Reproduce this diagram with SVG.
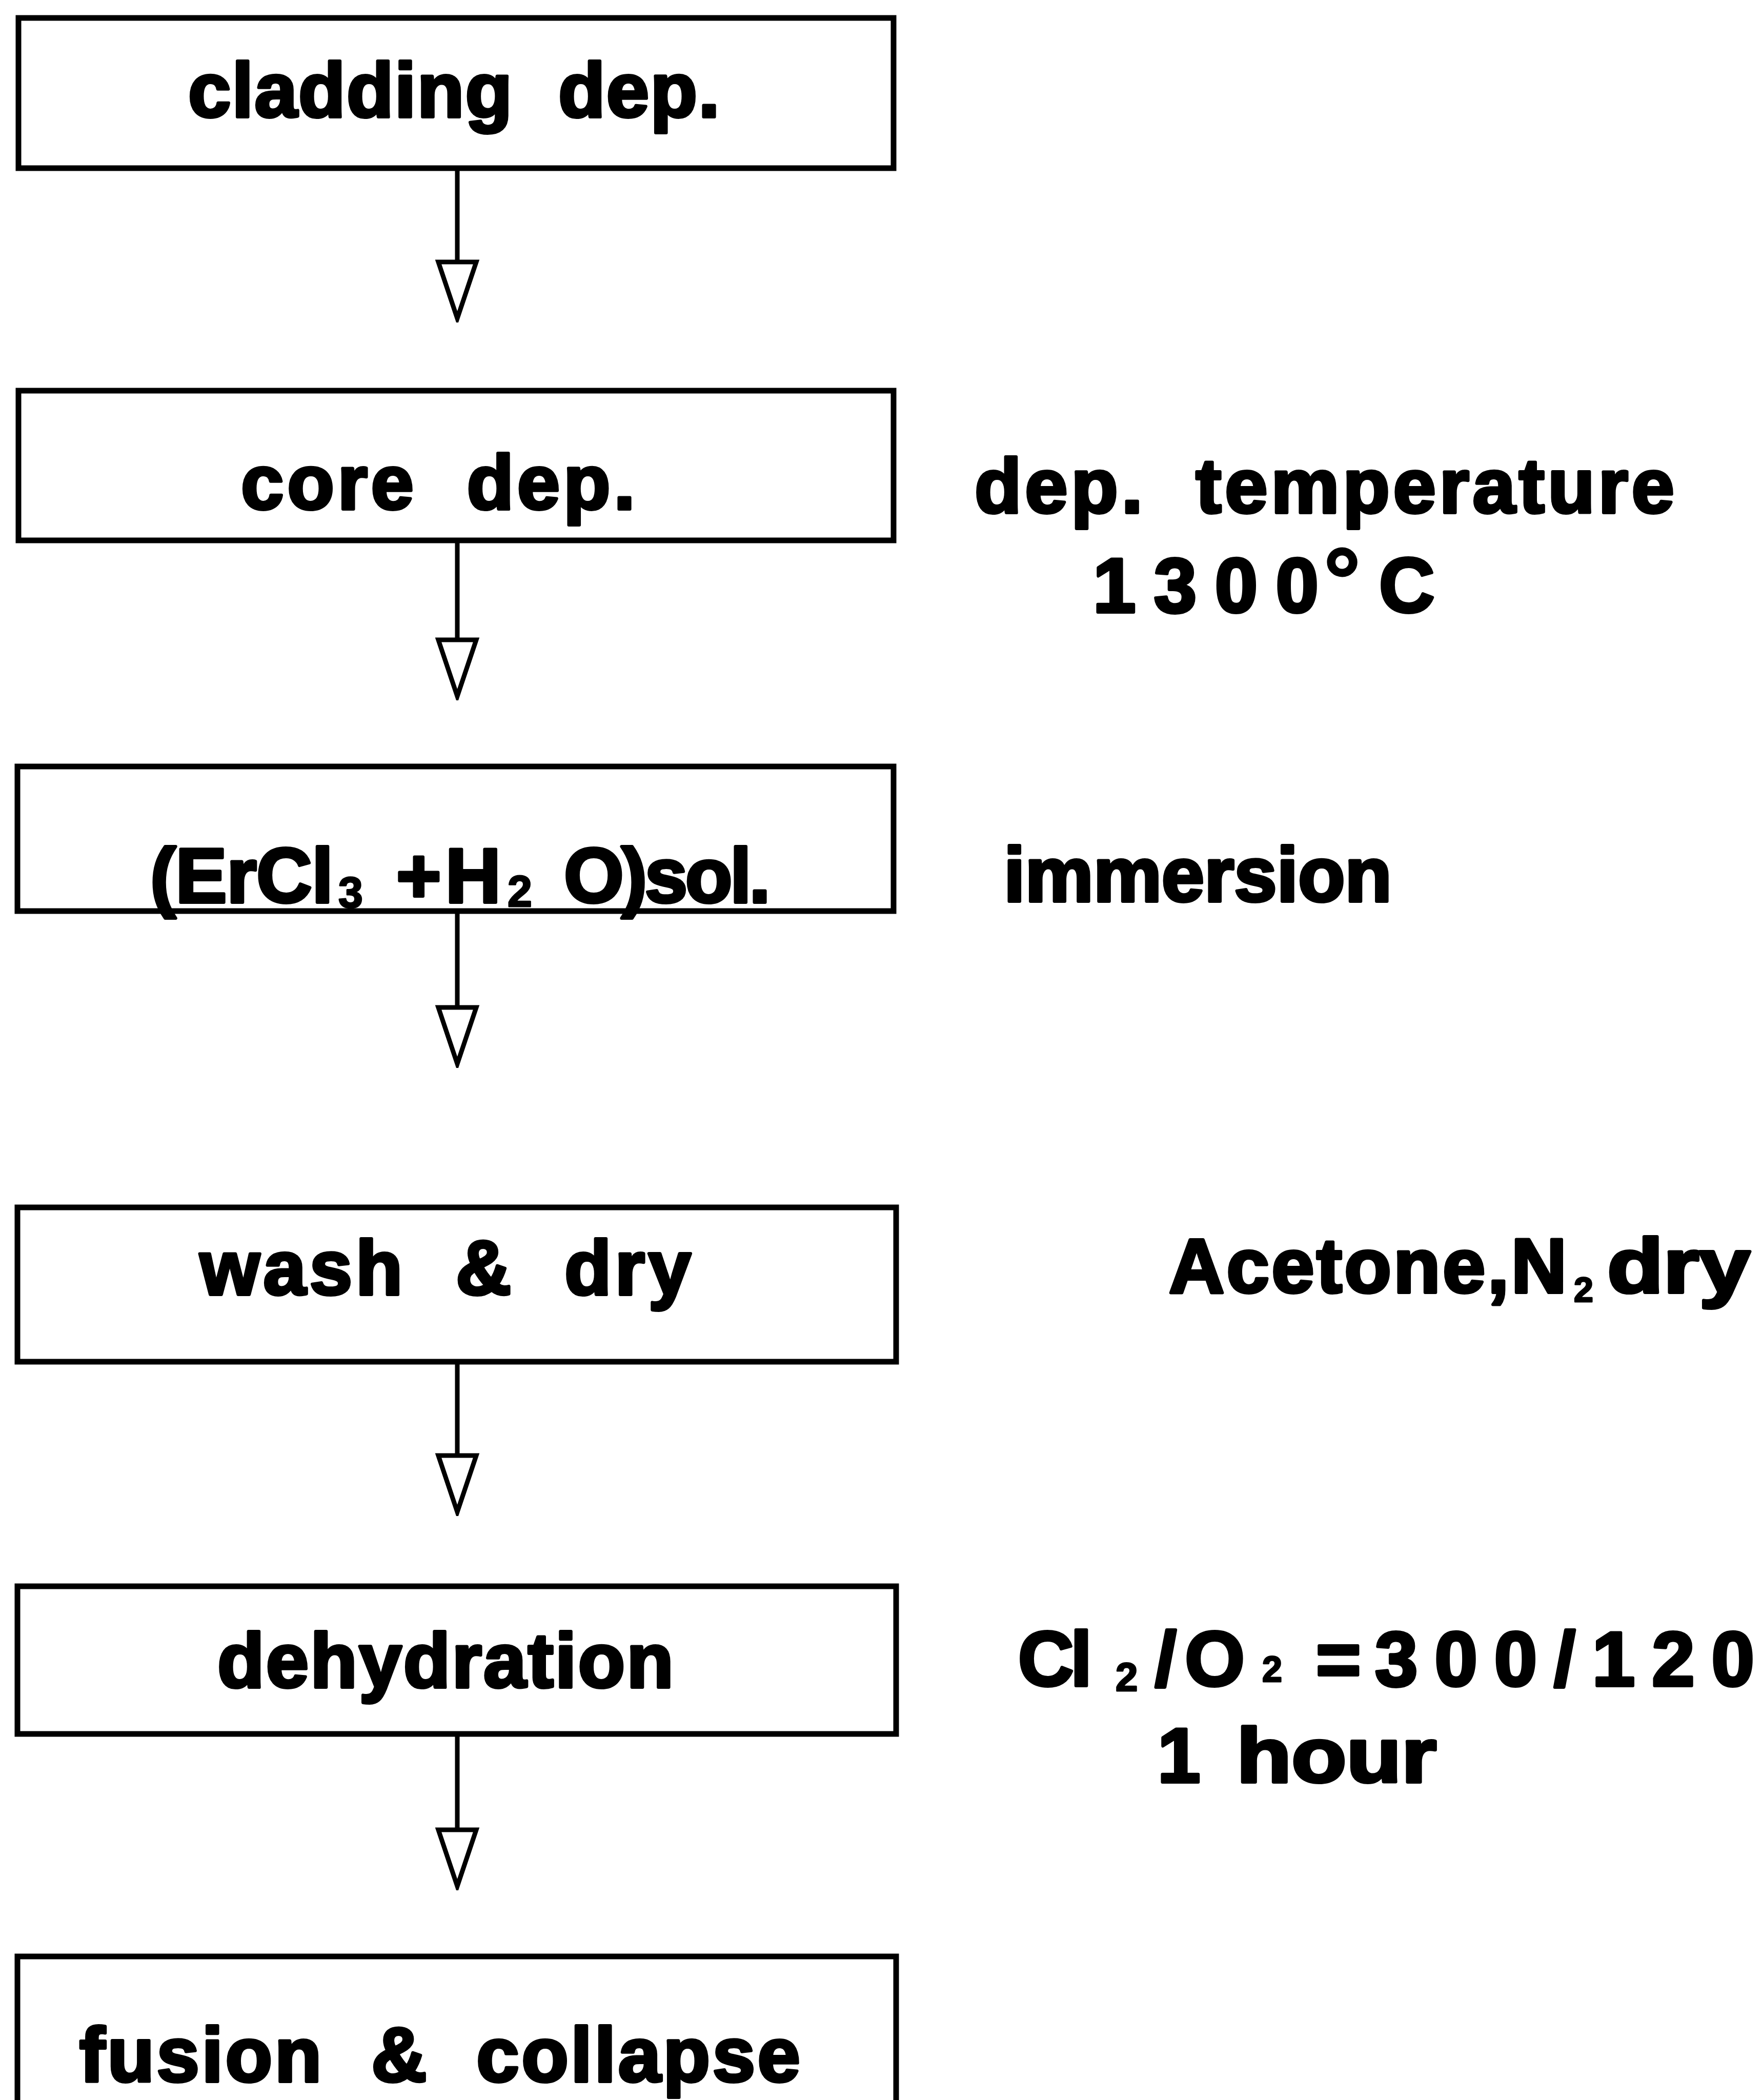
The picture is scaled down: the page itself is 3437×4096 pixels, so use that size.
<svg xmlns="http://www.w3.org/2000/svg" width="3437" height="4096" viewBox="0 0 3437 4096">
<style>
.box{fill:#fff;stroke:#000;stroke-width:11}
.t{font-family:"Liberation Sans",Arial,Helvetica,sans-serif;font-weight:bold;font-size:150px;fill:#000;stroke:#000;stroke-width:6;stroke-linejoin:round}
.sub{font-size:86px;stroke-width:3}
.conn line{stroke:#000;stroke-width:9}
</style>
<defs>
<marker id="tri" markerUnits="userSpaceOnUse" viewBox="-46 -6 92 124" refX="0" refY="0" markerWidth="92" markerHeight="124" orient="0">
<path d="M-37 0 L37 0 L0 110 Z" fill="#fff" stroke="#000" stroke-width="9" stroke-linejoin="miter"/>
</marker>
</defs>
<rect width="3437" height="4096" fill="#fff"/>
<g id="connectors" class="conn">
<line x1="892" y1="328" x2="892" y2="511" marker-end="url(#tri)"/>
<line x1="892" y1="1054" x2="892" y2="1248" marker-end="url(#tri)"/>
<line x1="892" y1="1777" x2="892" y2="1965" marker-end="url(#tri)"/>
<line x1="892" y1="2656" x2="892" y2="2839" marker-end="url(#tri)"/>
<line x1="892" y1="3382" x2="892" y2="3569" marker-end="url(#tri)"/>
</g>
<g id="node-cladding">
<rect class="box" x="36" y="35" width="1707" height="293"/>
<text class="t" x="367" y="228" textLength="1037" lengthAdjust="spacing" xml:space="preserve">cladding  dep.</text>
</g>
<g id="node-core">
<rect class="box" x="36" y="762" width="1707" height="292"/>
<text class="t" x="470" y="993" textLength="769" lengthAdjust="spacing" xml:space="preserve">core  dep.</text>
</g>
<g id="node-solution">
<rect class="box" x="34" y="1495" width="1709" height="282"/>
<text class="t" xml:space="preserve"><tspan x="293" y="1760" textLength="357" lengthAdjust="spacing">(ErCl</tspan><tspan class="sub" x="660" y="1770">3</tspan><tspan x="773" y="1760" textLength="204" lengthAdjust="spacing">+H</tspan><tspan class="sub" x="990" y="1768">2</tspan><tspan x="1100" y="1760" textLength="403" lengthAdjust="spacing">O)sol.</tspan></text>
</g>
<g id="node-wash">
<rect class="box" x="34" y="2355" width="1714" height="301"/>
<text class="t" x="390" y="2525" textLength="958" lengthAdjust="spacing" xml:space="preserve">wash  &amp;  dry</text>
</g>
<g id="node-dehydration">
<rect class="box" x="34" y="3094" width="1714" height="288"/>
<text class="t" x="424" y="3291" textLength="890" lengthAdjust="spacing">dehydration</text>
</g>
<g id="node-fusion">
<rect class="box" x="34" y="3816" width="1714" height="400"/>
<text class="t" x="155" y="4060" textLength="1406" lengthAdjust="spacing" xml:space="preserve">fusion  &amp;  collapse</text>
</g>
<g id="label-temperature">
<text class="t" x="1901" y="1000" textLength="1365" lengthAdjust="spacing" xml:space="preserve">dep.  temperature</text>
<text class="t" xml:space="preserve"><tspan x="2132" y="1194" textLength="440" lengthAdjust="spacing">1300</tspan><tspan x="2582" y="1194" style="font-size:180px;stroke-width:3">°</tspan><tspan x="2690" y="1194">C</tspan></text>
</g>
<g id="label-immersion">
<text class="t" x="1958" y="1758" textLength="757" lengthAdjust="spacing">immersion</text>
</g>
<g id="label-acetone">
<text class="t" xml:space="preserve"><tspan x="2280" y="2521" textLength="776" lengthAdjust="spacing">Acetone,N</tspan><tspan x="3070" y="2539" style="font-size:68px;stroke-width:3">2</tspan><tspan x="3135" y="2521" textLength="279" lengthAdjust="spacingAndGlyphs">dry</tspan></text>
</g>
<g id="label-chlorine">
<text class="t" xml:space="preserve"><tspan x="1986" y="3288" textLength="144" lengthAdjust="spacing">Cl</tspan><tspan x="2176" y="3298" style="font-size:78px;stroke-width:3">2</tspan><tspan x="2253" y="3288" textLength="175" lengthAdjust="spacing">/O</tspan><tspan x="2462" y="3280" style="font-size:70px;stroke-width:3">2</tspan><tspan x="2567" y="3288">=</tspan><tspan x="2682" y="3288" textLength="740" lengthAdjust="spacing">300/120</tspan></text>
<text class="t" xml:space="preserve"><tspan x="2258" y="3476">1</tspan><tspan x="2412" y="3476" textLength="390" lengthAdjust="spacingAndGlyphs">hour</tspan></text>
</g>
</svg>
